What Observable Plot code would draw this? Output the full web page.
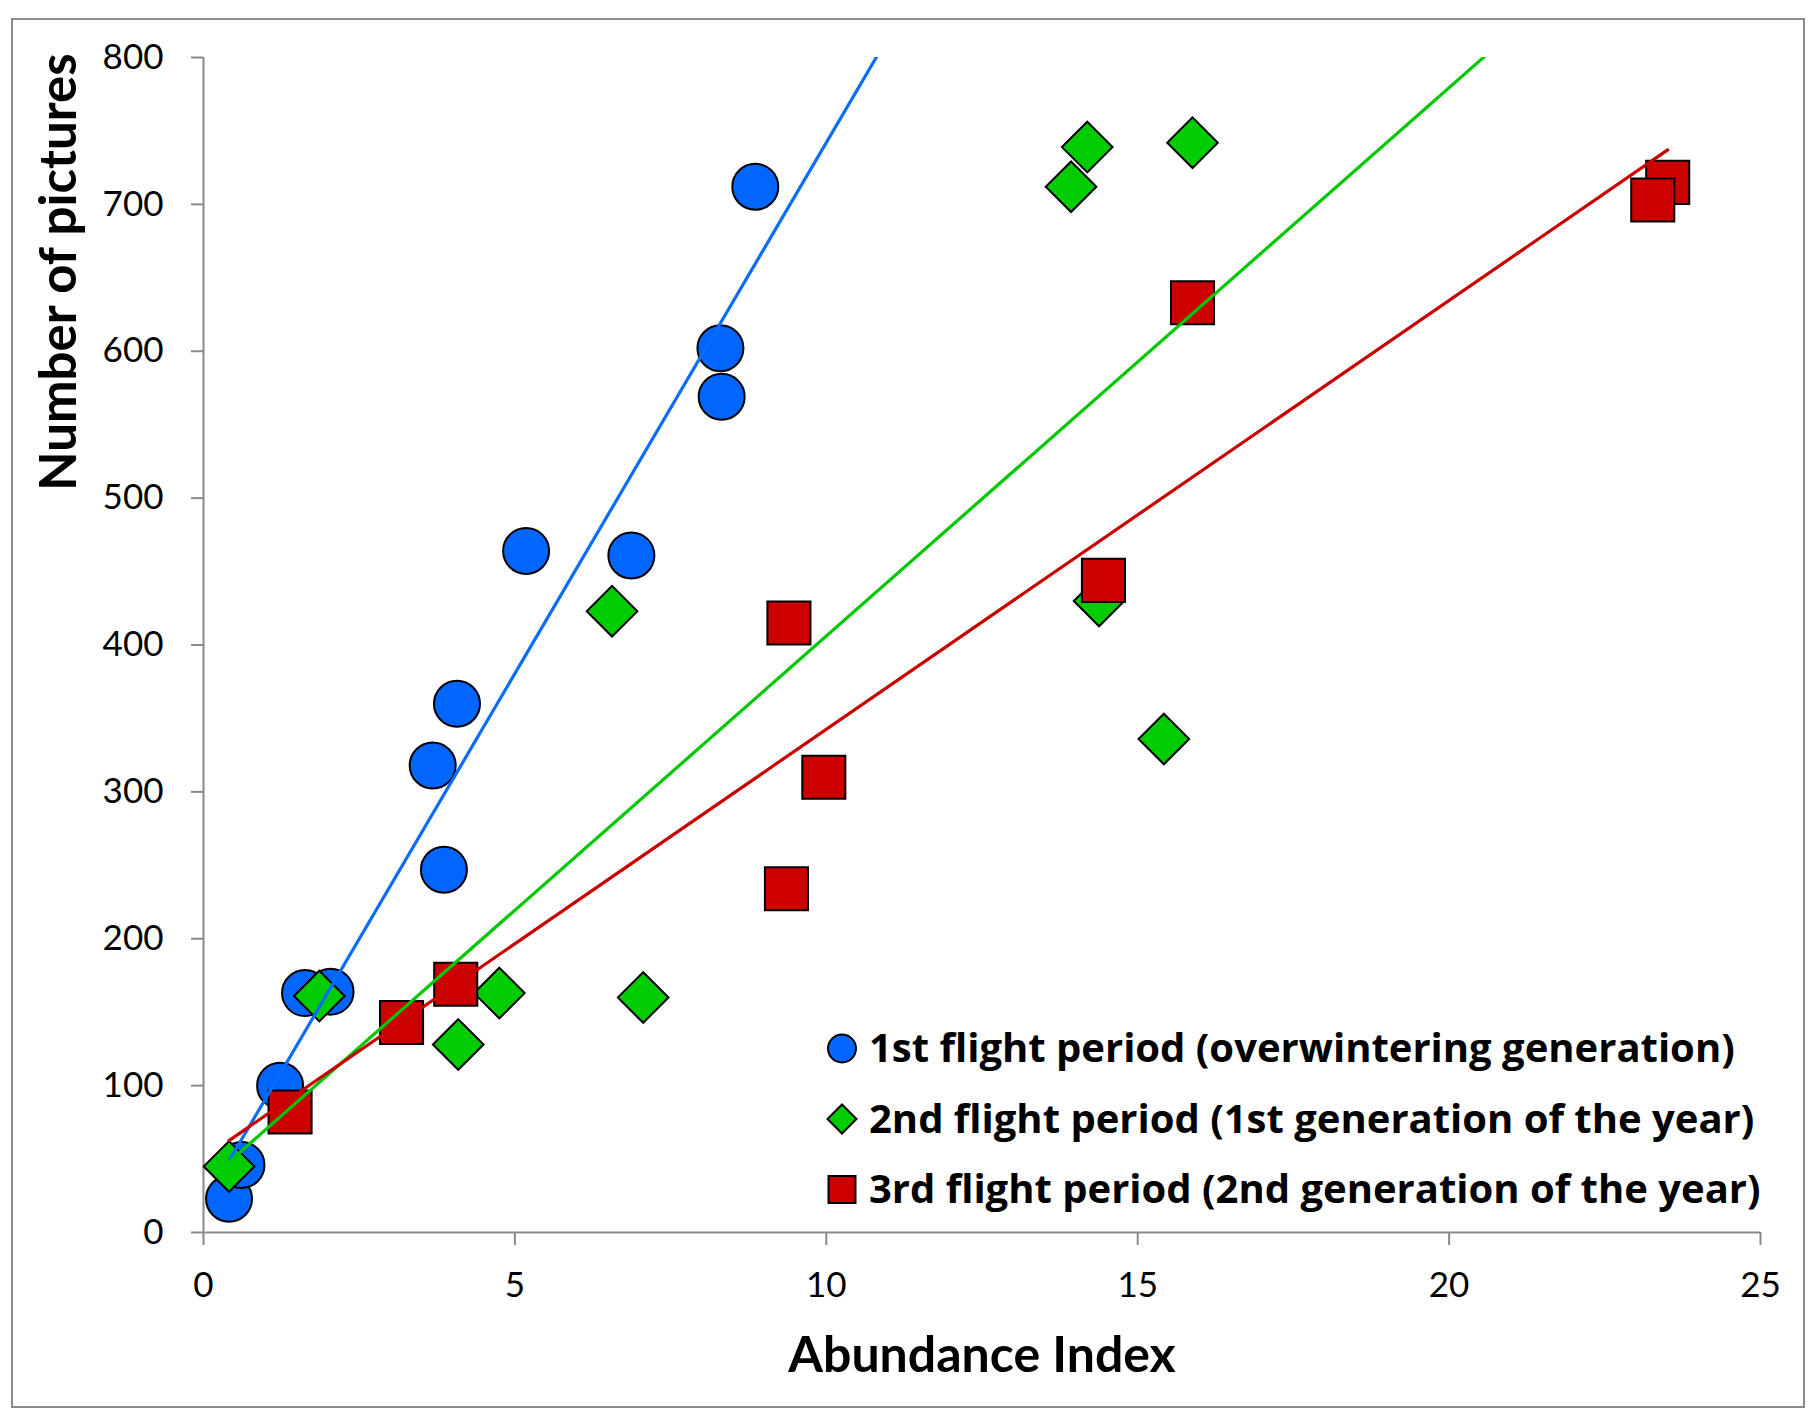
<!DOCTYPE html>
<html><head><meta charset="utf-8">
<script src="https://cdn.jsdelivr.net/npm/d3@7"></script>
<script src="https://cdn.jsdelivr.net/npm/@observablehq/plot@0.6"></script>
<style>
html,body{margin:0;padding:0;background:#fff;}
#wrap{position:relative;width:1815px;height:1419px;font-family:Lato,sans-serif;}
#border{position:absolute;left:11px;top:18px;width:1794px;height:1390px;box-sizing:border-box;border:2px solid #8c8c8c;pointer-events:none;}
#wrap svg{position:absolute;left:0;top:0;}
</style></head><body>
<div id="wrap"><div id="border"></div></div>
<script>
// ---- data ----
const seriesNames = [
  "1st flight period (overwintering generation)",
  "2nd flight period (1st generation of the year)",
  "3rd flight period (2nd generation of the year)"
];
const seriesFill = ["#0066FF", "#00CC00", "#CC0000"];
const seriesLine = ["#0A6CFF", "#00C800", "#C80000"];
const seriesSymbol = ["circle", "diamond2", "square"];

const firstX = [0.41, 0.61, 1.23, 1.63, 2.04, 3.68, 3.86, 4.07, 5.18, 6.87, 8.32, 8.30, 8.86];
const firstY = [23, 46, 100, 163, 164, 318, 247, 360, 464, 461, 569, 602, 712];

const secondX = [0.41, 1.86, 4.09, 4.75, 6.56, 7.06, 13.93, 14.19, 14.38, 15.42, 15.88];
const secondY = [45, 161, 128, 163, 423, 160, 712, 739, 430, 336, 742];

const thirdX = [1.39, 3.18, 4.05, 9.40, 9.96, 9.36, 14.45, 15.88, 23.51, 23.27];
const thirdY = [82, 143, 169, 415, 310, 234, 444, 633, 715, 703];

const xTicks = [0, 5, 10, 15, 20, 25];
const yTicks = [0, 100, 200, 300, 400, 500, 600, 700, 800];
const xTitle = "Abundance Index";
const yTitle = "Number of pictures";

// ---- build tables ----
const seriesX = [firstX, secondX, thirdX];
const seriesY = [firstY, secondY, thirdY];
const points = seriesX.map((xs, i) => xs.map((x, j) => ({series: seriesNames[i], x, y: seriesY[i][j]})));

function ols(xs, ys) {
  const mx = d3.mean(xs), my = d3.mean(ys);
  let sxy = 0, sxx = 0;
  xs.forEach((x, i) => { sxy += (x - mx) * (ys[i] - my); sxx += (x - mx) * (x - mx); });
  const b = sxy / sxx;
  return {b, a: my - b * mx};
}
const allX = seriesX.flat();
const [xmin, xmax] = d3.extent(allX);
const trend = seriesX.map((xs, i) => {
  const {a, b} = ols(xs, seriesY[i]);
  return [xmin, xmax].map(x => ({series: seriesNames[i], x, y: a + b * x}));
});

const axisGray = "#898989";
const symbolR = {circle: 23, diamond2: 22.8, square: 24.3};

const marks = [
  Plot.ruleY([0], {stroke: axisGray, strokeWidth: 2}),
  Plot.ruleX([0], {stroke: axisGray, strokeWidth: 2}),
  Plot.axisX({ticks: xTicks, tickSize: 13, tickPadding: 27, fontSize: 35, stroke: axisGray, strokeWidth: 2, label: null}),
  Plot.axisY({ticks: yTicks, tickSize: 12, tickPadding: 28, fontSize: 35, stroke: axisGray, strokeWidth: 2, label: null})
];
points.forEach((pts, i) => {
  marks.push(Plot.dot(pts, {x: "x", y: "y", symbol: () => seriesSymbol[i], r: symbolR[seriesSymbol[i]],
    fill: seriesFill[i], stroke: "black", strokeWidth: 2}));
});
trend.forEach((ln, i) => {
  marks.push(Plot.line(ln, {x: "x", y: "y", stroke: seriesLine[i], strokeWidth: 3.2, clip: true}));
});
marks.push(Plot.text([xTitle], {frameAnchor: "bottom", dy: 123, fontSize: 50, fontWeight: "bold", lineAnchor: "middle", textAnchor: "middle", fill: "black"}));
marks.push(Plot.text([yTitle], {frameAnchor: "left", dx: -144, dy: -373, rotate: -90, fontSize: 51, fontWeight: "bold", lineAnchor: "middle", textAnchor: "middle", fill: "black"}));

const chart = Plot.plot({
  width: 1815, height: 1419,
  marginLeft: 203, marginRight: 55, marginTop: 57, marginBottom: 187,
  style: {fontFamily: "Lato, sans-serif", background: "transparent", color: "black", overflow: "visible"},
  x: {domain: [0, 25]},
  y: {domain: [0, 800]},
  symbol: {type: "identity"},
  marks
});
const wrap = document.getElementById("wrap");
wrap.appendChild(chart);

// ---- legend (inside plot area, lower right) ----
const leg = d3.select(wrap).append("svg")
  .attr("width", 1815).attr("height", 1419)
  .style("pointer-events", "none");
const legendSymbols = {circle: d3.symbolCircle, diamond2: d3.symbolDiamond2, square: d3.symbolSquare};
const legendSize = {circle: Math.PI * 14 * 14, diamond2: Math.pow(14.5 / 0.62625, 2), square: 27 * 27};
seriesNames.forEach((name, i) => {
  const baseline = 1062 + i * 70.5;
  const cy = baseline - 13.5;
  leg.append("path")
    .attr("d", d3.symbol(legendSymbols[seriesSymbol[i]], legendSize[seriesSymbol[i]])())
    .attr("transform", `translate(842,${cy})`)
    .attr("fill", seriesFill[i]).attr("stroke", "black").attr("stroke-width", 2);
  leg.append("text")
    .attr("x", 869).attr("y", baseline)
    .attr("font-family", "'Open Sans', sans-serif").attr("font-weight", "bold").attr("font-size", 40)
    .attr("fill", "black")
    .text(name);
});
</script>
</body></html>
